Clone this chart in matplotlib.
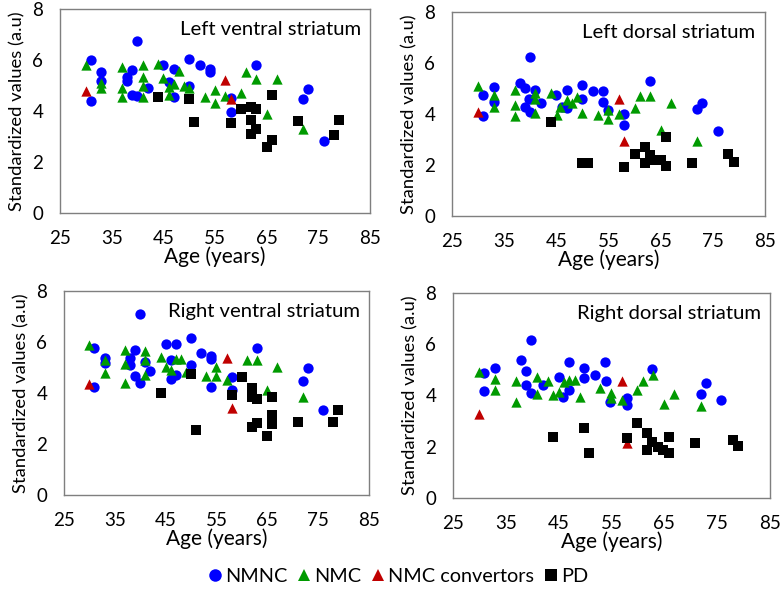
import numpy as np
import matplotlib.pyplot as plt
from matplotlib.lines import Line2D

plt.rcParams['font.family'] = ['Lato', 'DejaVu Sans']

# ---- Left ventral striatum ----
lv_nmnc_age = [31, 31, 33, 33, 40, 39, 38, 38, 39, 40, 42, 45, 47, 46, 47, 50, 52, 54, 54, 50, 58, 58, 63, 72, 73, 76]
lv_nmnc_val = [6.0, 4.4, 5.55, 5.2, 6.76, 5.63, 5.35, 5.2, 4.63, 4.6, 4.9, 5.8, 5.67, 5.15, 4.56, 6.03, 5.8, 5.67, 5.54, 5.0, 3.97, 4.5, 5.8, 4.47, 4.85, 2.82]
lv_nmc_age = [30, 33, 33, 37, 37, 37, 41, 41, 41, 41, 44, 45, 46, 46, 47, 48, 49, 50, 53, 55, 55, 57, 60, 61, 63, 65, 67, 72]
lv_nmc_val = [5.8, 5.1, 4.9, 5.74, 4.9, 4.56, 5.8, 5.35, 5.0, 4.56, 5.84, 5.28, 4.95, 4.63, 5.08, 5.57, 5.0, 4.9, 4.56, 4.82, 4.3, 4.59, 4.72, 5.54, 5.25, 3.9, 5.25, 3.28]
lv_conv_age = [30, 57, 58]
lv_conv_val = [4.8, 5.22, 4.46]
lv_pd_age = [44, 50, 51, 58, 60, 62, 63, 62, 62, 63, 66, 66, 65, 71, 78, 79]
lv_pd_val = [4.56, 4.47, 3.58, 3.54, 4.07, 4.17, 4.1, 3.65, 3.12, 3.28, 4.65, 2.86, 2.58, 3.6, 3.08, 3.67]

# ---- Left dorsal striatum ----
ld_nmnc_age = [31, 31, 33, 33, 40, 38, 39, 41, 39.7, 42, 39, 40, 45, 47, 46, 47, 50, 50, 52, 54, 54, 55, 58, 58, 63, 72, 73, 76]
ld_nmnc_val = [4.74, 3.92, 5.07, 4.48, 6.24, 5.22, 5.04, 4.93, 4.6, 4.44, 4.28, 4.09, 4.74, 4.93, 4.26, 4.22, 5.13, 4.58, 4.9, 4.9, 4.48, 4.15, 4.02, 3.59, 5.3, 4.18, 4.45, 3.34]
ld_nmc_age = [30, 33, 33, 37, 37, 37, 41, 41, 41, 44, 45.2, 45.8, 47, 48, 49, 50, 53, 55, 55, 57, 60, 61, 63, 65, 67, 72]
ld_nmc_val = [5.09, 4.74, 4.28, 4.93, 4.35, 3.92, 4.83, 4.6, 4.05, 4.84, 3.96, 4.28, 4.54, 4.44, 4.67, 4.06, 3.98, 4.15, 3.79, 4.02, 4.22, 4.7, 4.7, 3.39, 4.44, 2.94]
ld_conv_age = [30, 57, 58]
ld_conv_val = [4.09, 4.58, 2.94]
ld_pd_age = [44, 50, 51, 58, 60, 62, 62, 63, 64, 65, 66, 66, 71, 78, 79]
ld_pd_val = [3.69, 2.09, 2.09, 1.93, 2.45, 2.72, 2.1, 2.39, 2.19, 2.19, 3.1, 1.96, 2.09, 2.42, 2.11]

# ---- Right ventral striatum ----
rv_nmnc_age = [31, 31, 33, 33, 40, 39, 38, 38, 39, 40, 41, 42, 45, 47, 46, 47, 46, 50, 50, 52, 54, 54, 54, 58, 58, 63, 72, 73, 76]
rv_nmnc_val = [5.78, 4.22, 5.39, 5.18, 7.08, 5.68, 5.39, 5.09, 4.66, 4.4, 5.22, 4.86, 5.91, 5.91, 5.29, 4.7, 4.53, 6.16, 5.09, 5.55, 5.44, 5.35, 4.22, 4.61, 4.11, 5.78, 4.46, 4.99, 3.33]
rv_nmc_age = [30, 33, 33, 37, 37, 37, 41, 41, 41, 44, 45, 46, 47, 48, 49, 53, 55, 55, 57, 61, 63, 65, 67, 72]
rv_nmc_val = [5.87, 5.29, 4.79, 5.68, 5.12, 4.4, 5.65, 5.29, 4.7, 5.42, 5.03, 4.9, 5.35, 5.35, 4.83, 4.66, 5.03, 4.66, 4.5, 5.29, 5.29, 4.11, 5.03, 3.85]
rv_conv_age = [30, 57, 58]
rv_conv_val = [4.37, 5.38, 3.43]
rv_pd_age = [44, 50, 51, 58, 60, 62, 62, 63, 62, 63, 66, 66, 66, 65, 71, 78, 79]
rv_pd_val = [3.98, 4.73, 2.55, 3.92, 4.63, 4.2, 3.85, 3.75, 2.65, 2.81, 3.85, 3.13, 2.78, 2.32, 2.85, 2.85, 3.33]

# ---- Right dorsal striatum ----
rd_nmnc_age = [30.8, 30.8, 32.9, 39.8, 37.9, 38.9, 38.9, 39.7, 42, 45, 45.9, 46.9, 47, 49.8, 49.8, 51.8, 53.8, 54, 54.8, 58, 58, 62.7, 72, 72.8, 75.8]
rd_nmnc_val = [4.87, 4.19, 5.09, 6.15, 5.37, 4.97, 4.41, 4.11, 4.41, 4.74, 3.96, 5.29, 4.22, 5.09, 4.67, 4.78, 5.3, 4.58, 3.76, 3.89, 3.63, 5.03, 4.05, 4.48, 3.83]
rd_nmc_age = [29.9, 32.9, 32.9, 36.9, 36.9, 40.9, 40.9, 43, 44, 45, 46, 47, 48, 49, 52.9, 54.9, 54.9, 57, 59.9, 60.9, 62.9, 65, 66.9, 72]
rd_nmc_val = [4.93, 4.63, 4.22, 4.57, 3.76, 4.74, 4.06, 4.57, 4.02, 4.15, 4.54, 4.61, 4.61, 3.96, 4.28, 4.09, 3.89, 3.83, 4.22, 4.57, 4.8, 3.66, 4.06, 3.59]
rd_conv_age = [29.9, 57, 57.9]
rd_conv_val = [3.26, 4.57, 2.13]
rd_pd_age = [43.9, 49.8, 50.8, 57.9, 59.9, 61.8, 62.7, 61.8, 63.7, 64.8, 65.8, 65.8, 70.8, 77.9, 79]
rd_pd_val = [2.39, 2.72, 1.74, 2.35, 2.94, 2.52, 2.19, 1.87, 2.0, 1.87, 2.39, 1.74, 2.13, 2.28, 2.02]

titles = ["Left ventral striatum", "Left dorsal striatum", "Right ventral striatum", "Right dorsal striatum"]
panels = [
    (lv_nmnc_age, lv_nmnc_val, lv_nmc_age, lv_nmc_val, lv_conv_age, lv_conv_val, lv_pd_age, lv_pd_val),
    (ld_nmnc_age, ld_nmnc_val, ld_nmc_age, ld_nmc_val, ld_conv_age, ld_conv_val, ld_pd_age, ld_pd_val),
    (rv_nmnc_age, rv_nmnc_val, rv_nmc_age, rv_nmc_val, rv_conv_age, rv_conv_val, rv_pd_age, rv_pd_val),
    (rd_nmnc_age, rd_nmnc_val, rd_nmc_age, rd_nmc_val, rd_conv_age, rd_conv_val, rd_pd_age, rd_pd_val),
]
x_ticks = [25, 35, 45, 55, 65, 75, 85]
y_ticks = [0, 2, 4, 6, 8]

blue = "#0000FF"
green = "#009A00"
red = "#C00000"
black = "#000000"

# axes rectangles in figure fraction
rects = [
    [0.0768, 0.640, 0.397, 0.3446],
    [0.5787, 0.635, 0.4008, 0.3446],
    [0.0819, 0.1639, 0.3905, 0.3446],
    [0.5800, 0.1588, 0.406, 0.3463],
]

fig = plt.figure(figsize=(7.81, 5.92), dpi=100)

for rect, title, p in zip(rects, titles, panels):
    ax = fig.add_axes(rect)
    ax.scatter(p[0], p[1], s=55, marker='o', color=blue, linewidths=0, zorder=3)
    ax.scatter(p[2], p[3], s=55, marker='^', color=green, linewidths=0, zorder=3)
    ax.scatter(p[4], p[5], s=55, marker='^', color=red, linewidths=0, zorder=3)
    ax.scatter(p[6], p[7], s=50, marker='s', color=black, linewidths=0, zorder=3)
    ax.set_xlim(25, 85)
    ax.set_ylim(0, 8)
    ax.set_xticks(x_ticks)
    ax.set_yticks(y_ticks)
    ax.tick_params(length=0, labelsize=13.5)
    ax.tick_params(axis='x', pad=12)
    ax.tick_params(axis='y', pad=12)
    for s in ax.spines.values():
        s.set_color('#7f7f7f')
        s.set_linewidth(1.0)
    ax.set_xlabel("Age (years)", fontsize=15, labelpad=0)
    ax.set_ylabel("Standardized values (a.u)", fontsize=13.2, labelpad=5)
    ax.text(0.97, 0.94, title, transform=ax.transAxes, ha='right', va='top', fontsize=14.6)

handles = [
    Line2D([], [], marker='o', color=blue, linestyle='None', markersize=9, markeredgewidth=0),
    Line2D([], [], marker='^', color=green, linestyle='None', markersize=9, markeredgewidth=0),
    Line2D([], [], marker='^', color=red, linestyle='None', markersize=9, markeredgewidth=0),
    Line2D([], [], marker='s', color=black, linestyle='None', markersize=8, markeredgewidth=0),
]
labels = ["NMNC", "NMC", "NMC convertors", "PD"]
fig.legend(handles, labels, loc='center', bbox_to_anchor=(0.51, 0.026), ncol=4, frameon=False,
           fontsize=14.3, handlelength=0.7, handletextpad=0.15, columnspacing=0.5,
           borderpad=0, borderaxespad=0)

fig.savefig("out.png", dpi=100)
